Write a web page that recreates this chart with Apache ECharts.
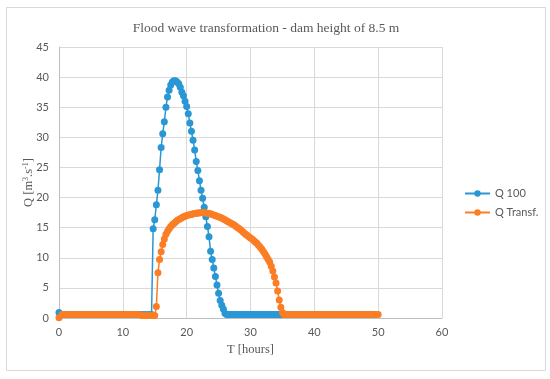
<!DOCTYPE html>
<html>
<head>
<meta charset="utf-8">
<script src="https://cdn.jsdelivr.net/npm/echarts@6/dist/echarts.min.js"></script>
<style>html,body{margin:0;padding:0;background:#fff;}#c{width:550px;height:379px;}</style>
</head>
<body>
<div id="c"></div>
<script>
const hours = [
  0,0.5,1,1.5,2,2.5,3,3.5,4,4.5,5,5.5,6,6.5,7,7.5,8,8.5,9,9.5,10,10.5,11,11.5,12,12.5,13,13.5,14,14.5,
  14.75,15,15.25,15.5,15.75,16,16.25,16.5,16.75,17,17.25,17.5,17.75,18,18.25,18.5,18.75,19,19.25,19.5,19.75,
  20,20.25,20.5,20.75,21,21.25,21.5,21.75,22,22.25,22.5,22.75,23,23.25,23.5,23.75,24,24.25,24.5,24.75,
  25,25.25,25.5,25.75,26,26.25,26.5,26.75,27,27.25,27.5,27.75,28,28.25,28.5,28.75,29,29.25,29.5,29.75,
  30,30.25,30.5,30.75,31,31.25,31.5,31.75,32,32.25,32.5,32.75,33,33.25,33.5,33.75,34,34.25,34.5,34.75,
  35,35.25,35.5,
  36,36.5,37,37.5,38,38.5,39,39.5,40,40.5,41,41.5,42,42.5,43,43.5,44,44.5,45,45.5,46,46.5,47,47.5,48,48.5,49,49.5,50
];
const q100 = [
  0.9,0.6,0.6,0.6,0.6,0.6,0.6,0.6,0.6,0.6,0.6,0.6,0.6,0.6,0.6,0.6,0.6,0.6,0.6,0.6,0.6,0.6,0.6,0.6,0.6,0.6,0.6,0.6,0.6,0.6,
  14.8,16.3,18.8,21.2,24.6,28.3,30.6,32.6,35.0,36.7,37.8,38.7,39.2,39.4,39.4,39.2,38.9,38.3,37.5,36.9,36.0,
  35.1,33.9,32.4,31.0,29.5,27.9,26.0,24.5,22.8,21.2,19.9,18.4,16.8,15.2,13.5,11.1,9.7,8.3,6.9,5.5,
  4.1,2.9,2.1,1.5,0.8,0.6,0.6,0.6,0.6,0.6,0.6,0.6,0.6,0.6,0.6,0.6,0.6,0.6,0.6,0.6,
  0.6,0.6,0.6,0.6,0.6,0.6,0.6,0.6,0.6,0.6,0.6,0.6,0.6,0.6,0.6,0.6,0.6,0.6,0.6,
  0.6,0.6,0.6,
  0.6,0.6,0.6,0.6,0.6,0.6,0.6,0.6,0.6,0.6,0.6,0.6,0.6,0.6,0.6,0.6,0.6,0.6,0.6,0.6,0.6,0.6,0.6,0.6,0.6,0.6,0.6,0.6,0.6
];
const qTransf = [
  0.05,0.6,0.6,0.6,0.6,0.6,0.6,0.6,0.6,0.6,0.6,0.6,0.6,0.6,0.6,0.6,0.6,0.6,0.6,0.6,0.6,0.6,0.6,0.6,0.6,0.6,0.4,0.4,0.4,0.4,
  0.4,0.4,1.9,7.5,9.7,11.0,12.2,13.1,13.9,14.4,14.8,15.2,15.5,15.7,15.95,16.2,16.35,16.5,16.65,16.8,16.9,
  17.0,17.1,17.15,17.2,17.3,17.35,17.4,17.45,17.45,17.5,17.5,17.5,17.45,17.4,17.35,17.3,17.2,17.1,17.0,16.9,
  16.8,16.7,16.6,16.45,16.3,16.15,16.0,15.85,15.7,15.55,15.4,15.2,15.0,14.8,14.6,14.35,14.1,13.9,13.7,13.5,
  13.3,13.1,12.85,12.6,12.4,12.1,11.8,11.45,11.1,10.65,10.2,9.75,9.3,8.6,7.8,6.8,5.8,4.5,3.0,1.8,
  0.9,0.6,0.6,
  0.6,0.6,0.6,0.6,0.6,0.6,0.6,0.6,0.6,0.6,0.6,0.6,0.6,0.6,0.6,0.6,0.6,0.6,0.6,0.6,0.6,0.6,0.6,0.6,0.6,0.6,0.6,0.6,0.6
];
const seriesNames = ['Q 100', 'Q Transf.'];
const titleText = 'Flood wave transformation - dam height of 8.5 m';

const chart = echarts.init(document.getElementById('c'), null, {renderer: 'canvas'});
const serif = '"Liberation Serif", "DejaVu Serif", serif';
const sans = 'Lato, "Open Sans", sans-serif';
chart.setOption({
  animation: false,
  backgroundColor: '#fff',
  graphic: [{
    type: 'rect', shape: {x: 6.5, y: 7.5, width: 539, height: 363},
    style: {fill: 'none', stroke: '#d9d9d9', lineWidth: 1}, silent: true, z: -1
  }],
  title: {
    text: titleText, left: 261, top: 16, textAlign: 'center',
    textStyle: {fontFamily: serif, fontSize: 13.5, fontWeight: 'normal', color: '#595959'}
  },
  legend: {
    orient: 'vertical', left: 459, top: 183, itemGap: 8, itemWidth: 25, itemHeight: 8,
    textStyle: {fontFamily: sans, fontSize: 11, color: '#595959'},
    data: seriesNames
  },
  grid: {left: 59, right: 108, top: 47, bottom: 61},
  xAxis: {
    type: 'value', min: 0, max: 60, interval: 10,
    name: 'T [hours]', nameLocation: 'middle', nameGap: 25, nameMoveOverlap: false,
    nameTextStyle: {fontFamily: serif, fontSize: 12.5, color: '#595959'},
    axisLine: {lineStyle: {color: '#bfbfbf'}},
    axisTick: {show: false},
    axisLabel: {fontFamily: sans, fontSize: 11, color: '#595959', margin: 9},
    splitLine: {show: true, lineStyle: {color: '#d9d9d9'}}
  },
  yAxis: {
    type: 'value', min: 0, max: 45, interval: 5,
    name: 'Q [m{sup|3}.s{sup|-1}]', nameLocation: 'middle', nameGap: 24, nameMoveOverlap: false,
    nameTextStyle: {fontFamily: serif, fontSize: 12.5, color: '#595959', padding: [0, 0, 0, 0],
      rich: {sup: {fontFamily: serif, fontSize: 8, color: '#595959', verticalAlign: 'top', lineHeight: 9}}},
    axisLine: {show: true, lineStyle: {color: '#bfbfbf'}},
    axisTick: {show: false},
    axisLabel: {fontFamily: sans, fontSize: 11, color: '#595959', margin: 10},
    splitLine: {show: true, lineStyle: {color: '#d9d9d9'}}
  },
  series: [
    {
      name: seriesNames[0], type: 'line', data: hours.map((t, i) => [t, q100[i]]),
      symbol: 'circle', symbolSize: 7, showAllSymbol: true,
      color: '#2a97d5', lineStyle: {width: 1.5, color: '#2a97d5'}, itemStyle: {color: '#2a97d5'},
      z: 2
    },
    {
      name: seriesNames[1], type: 'line', data: hours.map((t, i) => [t, qTransf[i]]),
      symbol: 'circle', symbolSize: 7, showAllSymbol: true,
      color: '#fb7d24', lineStyle: {width: 1.5, color: '#fb7d24'}, itemStyle: {color: '#fb7d24'},
      z: 3
    }
  ]
});
</script>
</body>
</html>
